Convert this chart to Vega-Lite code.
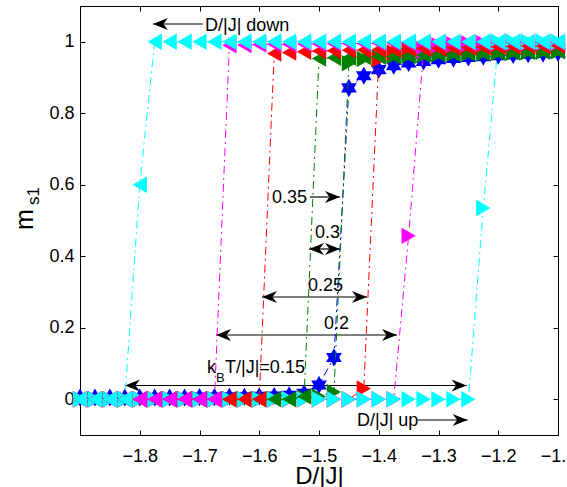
{
  "$schema": "https://vega.github.io/schema/vega-lite/v6.json",
  "width": 478,
  "height": 429,
  "autosize": {"type": "none"},
  "padding": {"left": 80, "top": 6, "right": 9, "bottom": 52},
  "background": "white",
  "config": {
    "font": "Liberation Sans",
    "view": {"stroke": "black", "strokeWidth": 1},
    "axis": {
      "domainColor": "black", "domainWidth": 1,
      "tickColor": "black", "tickWidth": 1, "tickSize": -5,
      "labelColor": "black", "labelFont": "Liberation Sans", "labelFontSize": 18,
      "titleColor": "black", "titleFont": "Liberation Sans",
      "grid": false
    }
  },
  "datasets": {
    "curves": [
      {"T":"0.35","s":"both","D":-1.9,"m":0.005},{"T":"0.35","s":"both","D":-1.875,"m":0.005},{"T":"0.35","s":"both","D":-1.85,"m":0.005},{"T":"0.35","s":"both","D":-1.825,"m":0.005},{"T":"0.35","s":"both","D":-1.8,"m":0.005},{"T":"0.35","s":"both","D":-1.775,"m":0.005},{"T":"0.35","s":"both","D":-1.75,"m":0.005},{"T":"0.35","s":"both","D":-1.725,"m":0.005},{"T":"0.35","s":"both","D":-1.7,"m":0.006},{"T":"0.35","s":"both","D":-1.675,"m":0.006},{"T":"0.35","s":"both","D":-1.65,"m":0.007},{"T":"0.35","s":"both","D":-1.625,"m":0.007},{"T":"0.35","s":"both","D":-1.6,"m":0.008},{"T":"0.35","s":"both","D":-1.575,"m":0.009},{"T":"0.35","s":"both","D":-1.55,"m":0.011},{"T":"0.35","s":"both","D":-1.525,"m":0.017},{"T":"0.35","s":"both","D":-1.5,"m":0.04},{"T":"0.35","s":"both","D":-1.475,"m":0.117},{"T":"0.35","s":"both","D":-1.45,"m":0.871},{"T":"0.35","s":"both","D":-1.425,"m":0.905},{"T":"0.35","s":"both","D":-1.4,"m":0.922},{"T":"0.35","s":"both","D":-1.375,"m":0.933},{"T":"0.35","s":"both","D":-1.35,"m":0.941},{"T":"0.35","s":"both","D":-1.325,"m":0.945},{"T":"0.35","s":"both","D":-1.3,"m":0.95},{"T":"0.35","s":"both","D":-1.275,"m":0.953},{"T":"0.35","s":"both","D":-1.25,"m":0.956},{"T":"0.35","s":"both","D":-1.225,"m":0.958},{"T":"0.35","s":"both","D":-1.2,"m":0.961},{"T":"0.35","s":"both","D":-1.175,"m":0.963},{"T":"0.35","s":"both","D":-1.15,"m":0.965},{"T":"0.35","s":"both","D":-1.125,"m":0.967},{"T":"0.35","s":"both","D":-1.1,"m":0.969},

      {"T":"0.3","s":"up","D":-1.9,"m":0},{"T":"0.3","s":"up","D":-1.875,"m":0},{"T":"0.3","s":"up","D":-1.85,"m":0},{"T":"0.3","s":"up","D":-1.825,"m":0},{"T":"0.3","s":"up","D":-1.8,"m":0},{"T":"0.3","s":"up","D":-1.775,"m":0},{"T":"0.3","s":"up","D":-1.75,"m":0},{"T":"0.3","s":"up","D":-1.725,"m":0},{"T":"0.3","s":"up","D":-1.7,"m":0},{"T":"0.3","s":"up","D":-1.675,"m":0},{"T":"0.3","s":"up","D":-1.65,"m":0},{"T":"0.3","s":"up","D":-1.625,"m":0},{"T":"0.3","s":"up","D":-1.6,"m":0},{"T":"0.3","s":"up","D":-1.575,"m":0},{"T":"0.3","s":"up","D":-1.55,"m":0},{"T":"0.3","s":"up","D":-1.525,"m":0.005},{"T":"0.3","s":"up","D":-1.5,"m":0.008},{"T":"0.3","s":"up","D":-1.475,"m":0.02},{"T":"0.3","s":"up","D":-1.45,"m":0.94},{"T":"0.3","s":"up","D":-1.425,"m":0.952},{"T":"0.3","s":"up","D":-1.4,"m":0.956},{"T":"0.3","s":"up","D":-1.375,"m":0.959},{"T":"0.3","s":"up","D":-1.35,"m":0.961},{"T":"0.3","s":"up","D":-1.325,"m":0.963},{"T":"0.3","s":"up","D":-1.3,"m":0.965},{"T":"0.3","s":"up","D":-1.275,"m":0.966},{"T":"0.3","s":"up","D":-1.25,"m":0.967},{"T":"0.3","s":"up","D":-1.225,"m":0.968},{"T":"0.3","s":"up","D":-1.2,"m":0.969},{"T":"0.3","s":"up","D":-1.175,"m":0.97},{"T":"0.3","s":"up","D":-1.15,"m":0.971},{"T":"0.3","s":"up","D":-1.125,"m":0.972},{"T":"0.3","s":"up","D":-1.1,"m":0.973},

      {"T":"0.25","s":"up","D":-1.9,"m":0},{"T":"0.25","s":"up","D":-1.875,"m":0},{"T":"0.25","s":"up","D":-1.85,"m":0},{"T":"0.25","s":"up","D":-1.825,"m":0},{"T":"0.25","s":"up","D":-1.8,"m":0},{"T":"0.25","s":"up","D":-1.775,"m":0},{"T":"0.25","s":"up","D":-1.75,"m":0},{"T":"0.25","s":"up","D":-1.725,"m":0},{"T":"0.25","s":"up","D":-1.7,"m":0},{"T":"0.25","s":"up","D":-1.675,"m":0},{"T":"0.25","s":"up","D":-1.65,"m":0},{"T":"0.25","s":"up","D":-1.625,"m":0},{"T":"0.25","s":"up","D":-1.6,"m":0},{"T":"0.25","s":"up","D":-1.575,"m":0},{"T":"0.25","s":"up","D":-1.55,"m":0},{"T":"0.25","s":"up","D":-1.525,"m":0},{"T":"0.25","s":"up","D":-1.5,"m":0},{"T":"0.25","s":"up","D":-1.475,"m":0},{"T":"0.25","s":"up","D":-1.45,"m":0},{"T":"0.25","s":"up","D":-1.425,"m":0.03},{"T":"0.25","s":"up","D":-1.4,"m":0.95},{"T":"0.25","s":"up","D":-1.375,"m":0.97},{"T":"0.25","s":"up","D":-1.35,"m":0.977},{"T":"0.25","s":"up","D":-1.325,"m":0.98},{"T":"0.25","s":"up","D":-1.3,"m":0.982},{"T":"0.25","s":"up","D":-1.275,"m":0.983},{"T":"0.25","s":"up","D":-1.25,"m":0.984},{"T":"0.25","s":"up","D":-1.225,"m":0.985},{"T":"0.25","s":"up","D":-1.2,"m":0.986},{"T":"0.25","s":"up","D":-1.175,"m":0.987},{"T":"0.25","s":"up","D":-1.15,"m":0.988},{"T":"0.25","s":"up","D":-1.125,"m":0.988},{"T":"0.25","s":"up","D":-1.1,"m":0.989},

      {"T":"0.2","s":"up","D":-1.9,"m":0},{"T":"0.2","s":"up","D":-1.875,"m":0},{"T":"0.2","s":"up","D":-1.85,"m":0},{"T":"0.2","s":"up","D":-1.825,"m":0},{"T":"0.2","s":"up","D":-1.8,"m":0},{"T":"0.2","s":"up","D":-1.775,"m":0},{"T":"0.2","s":"up","D":-1.75,"m":0},{"T":"0.2","s":"up","D":-1.725,"m":0},{"T":"0.2","s":"up","D":-1.7,"m":0},{"T":"0.2","s":"up","D":-1.675,"m":0},{"T":"0.2","s":"up","D":-1.65,"m":0},{"T":"0.2","s":"up","D":-1.625,"m":0},{"T":"0.2","s":"up","D":-1.6,"m":0},{"T":"0.2","s":"up","D":-1.575,"m":0},{"T":"0.2","s":"up","D":-1.55,"m":0},{"T":"0.2","s":"up","D":-1.525,"m":0},{"T":"0.2","s":"up","D":-1.5,"m":0},{"T":"0.2","s":"up","D":-1.475,"m":0},{"T":"0.2","s":"up","D":-1.45,"m":0},{"T":"0.2","s":"up","D":-1.425,"m":0},{"T":"0.2","s":"up","D":-1.4,"m":0},{"T":"0.2","s":"up","D":-1.375,"m":0},{"T":"0.2","s":"up","D":-1.35,"m":0.457},{"T":"0.2","s":"up","D":-1.325,"m":0.975},{"T":"0.2","s":"up","D":-1.3,"m":0.99},{"T":"0.2","s":"up","D":-1.275,"m":0.993},{"T":"0.2","s":"up","D":-1.25,"m":0.995},{"T":"0.2","s":"up","D":-1.225,"m":0.996},{"T":"0.2","s":"up","D":-1.2,"m":0.997},{"T":"0.2","s":"up","D":-1.175,"m":0.997},{"T":"0.2","s":"up","D":-1.15,"m":0.998},{"T":"0.2","s":"up","D":-1.125,"m":0.998},{"T":"0.2","s":"up","D":-1.1,"m":0.998},

      {"T":"0.15","s":"up","D":-1.9,"m":0},{"T":"0.15","s":"up","D":-1.875,"m":0},{"T":"0.15","s":"up","D":-1.85,"m":0},{"T":"0.15","s":"up","D":-1.825,"m":0},{"T":"0.15","s":"up","D":-1.8,"m":0},{"T":"0.15","s":"up","D":-1.775,"m":0},{"T":"0.15","s":"up","D":-1.75,"m":0},{"T":"0.15","s":"up","D":-1.725,"m":0},{"T":"0.15","s":"up","D":-1.7,"m":0},{"T":"0.15","s":"up","D":-1.675,"m":0},{"T":"0.15","s":"up","D":-1.65,"m":0},{"T":"0.15","s":"up","D":-1.625,"m":0},{"T":"0.15","s":"up","D":-1.6,"m":0},{"T":"0.15","s":"up","D":-1.575,"m":0},{"T":"0.15","s":"up","D":-1.55,"m":0},{"T":"0.15","s":"up","D":-1.525,"m":0},{"T":"0.15","s":"up","D":-1.5,"m":0},{"T":"0.15","s":"up","D":-1.475,"m":0},{"T":"0.15","s":"up","D":-1.45,"m":0},{"T":"0.15","s":"up","D":-1.425,"m":0},{"T":"0.15","s":"up","D":-1.4,"m":0},{"T":"0.15","s":"up","D":-1.375,"m":0},{"T":"0.15","s":"up","D":-1.35,"m":0},{"T":"0.15","s":"up","D":-1.325,"m":0},{"T":"0.15","s":"up","D":-1.3,"m":0},{"T":"0.15","s":"up","D":-1.275,"m":0},{"T":"0.15","s":"up","D":-1.25,"m":0},{"T":"0.15","s":"up","D":-1.225,"m":0.535},{"T":"0.15","s":"up","D":-1.2,"m":1},{"T":"0.15","s":"up","D":-1.175,"m":1},{"T":"0.15","s":"up","D":-1.15,"m":1},{"T":"0.15","s":"up","D":-1.125,"m":1},{"T":"0.15","s":"up","D":-1.1,"m":1},

      {"T":"0.3","s":"down","D":-1.9,"m":0},{"T":"0.3","s":"down","D":-1.875,"m":0},{"T":"0.3","s":"down","D":-1.85,"m":0},{"T":"0.3","s":"down","D":-1.825,"m":0},{"T":"0.3","s":"down","D":-1.8,"m":0},{"T":"0.3","s":"down","D":-1.775,"m":0},{"T":"0.3","s":"down","D":-1.75,"m":0},{"T":"0.3","s":"down","D":-1.725,"m":0},{"T":"0.3","s":"down","D":-1.7,"m":0},{"T":"0.3","s":"down","D":-1.675,"m":0},{"T":"0.3","s":"down","D":-1.65,"m":0},{"T":"0.3","s":"down","D":-1.625,"m":0},{"T":"0.3","s":"down","D":-1.6,"m":0},{"T":"0.3","s":"down","D":-1.575,"m":0},{"T":"0.3","s":"down","D":-1.55,"m":0},{"T":"0.3","s":"down","D":-1.525,"m":0.008},{"T":"0.3","s":"down","D":-1.5,"m":0.953},{"T":"0.3","s":"down","D":-1.475,"m":0.955},{"T":"0.3","s":"down","D":-1.45,"m":0.956},{"T":"0.3","s":"down","D":-1.425,"m":0.957},{"T":"0.3","s":"down","D":-1.4,"m":0.958},{"T":"0.3","s":"down","D":-1.375,"m":0.959},{"T":"0.3","s":"down","D":-1.35,"m":0.961},{"T":"0.3","s":"down","D":-1.325,"m":0.963},{"T":"0.3","s":"down","D":-1.3,"m":0.965},{"T":"0.3","s":"down","D":-1.275,"m":0.966},{"T":"0.3","s":"down","D":-1.25,"m":0.967},{"T":"0.3","s":"down","D":-1.225,"m":0.968},{"T":"0.3","s":"down","D":-1.2,"m":0.969},{"T":"0.3","s":"down","D":-1.175,"m":0.97},{"T":"0.3","s":"down","D":-1.15,"m":0.971},{"T":"0.3","s":"down","D":-1.125,"m":0.972},{"T":"0.3","s":"down","D":-1.1,"m":0.973},

      {"T":"0.25","s":"down","D":-1.9,"m":0},{"T":"0.25","s":"down","D":-1.875,"m":0},{"T":"0.25","s":"down","D":-1.85,"m":0},{"T":"0.25","s":"down","D":-1.825,"m":0},{"T":"0.25","s":"down","D":-1.8,"m":0},{"T":"0.25","s":"down","D":-1.775,"m":0},{"T":"0.25","s":"down","D":-1.75,"m":0},{"T":"0.25","s":"down","D":-1.725,"m":0},{"T":"0.25","s":"down","D":-1.7,"m":0},{"T":"0.25","s":"down","D":-1.675,"m":0},{"T":"0.25","s":"down","D":-1.65,"m":0},{"T":"0.25","s":"down","D":-1.625,"m":0},{"T":"0.25","s":"down","D":-1.6,"m":0},{"T":"0.25","s":"down","D":-1.575,"m":0.967},{"T":"0.25","s":"down","D":-1.55,"m":0.97},{"T":"0.25","s":"down","D":-1.525,"m":0.972},{"T":"0.25","s":"down","D":-1.5,"m":0.974},{"T":"0.25","s":"down","D":-1.475,"m":0.975},{"T":"0.25","s":"down","D":-1.45,"m":0.976},{"T":"0.25","s":"down","D":-1.425,"m":0.977},{"T":"0.25","s":"down","D":-1.4,"m":0.978},{"T":"0.25","s":"down","D":-1.375,"m":0.979},{"T":"0.25","s":"down","D":-1.35,"m":0.98},{"T":"0.25","s":"down","D":-1.325,"m":0.981},{"T":"0.25","s":"down","D":-1.3,"m":0.982},{"T":"0.25","s":"down","D":-1.275,"m":0.983},{"T":"0.25","s":"down","D":-1.25,"m":0.984},{"T":"0.25","s":"down","D":-1.225,"m":0.985},{"T":"0.25","s":"down","D":-1.2,"m":0.986},{"T":"0.25","s":"down","D":-1.175,"m":0.987},{"T":"0.25","s":"down","D":-1.15,"m":0.988},{"T":"0.25","s":"down","D":-1.125,"m":0.988},{"T":"0.25","s":"down","D":-1.1,"m":0.989},

      {"T":"0.2","s":"down","D":-1.9,"m":0},{"T":"0.2","s":"down","D":-1.875,"m":0},{"T":"0.2","s":"down","D":-1.85,"m":0},{"T":"0.2","s":"down","D":-1.825,"m":0},{"T":"0.2","s":"down","D":-1.8,"m":0},{"T":"0.2","s":"down","D":-1.775,"m":0},{"T":"0.2","s":"down","D":-1.75,"m":0},{"T":"0.2","s":"down","D":-1.725,"m":0},{"T":"0.2","s":"down","D":-1.7,"m":0},{"T":"0.2","s":"down","D":-1.675,"m":0},{"T":"0.2","s":"down","D":-1.65,"m":0.99},{"T":"0.2","s":"down","D":-1.625,"m":0.991},{"T":"0.2","s":"down","D":-1.6,"m":0.992},{"T":"0.2","s":"down","D":-1.575,"m":0.993},{"T":"0.2","s":"down","D":-1.55,"m":0.993},{"T":"0.2","s":"down","D":-1.525,"m":0.994},{"T":"0.2","s":"down","D":-1.5,"m":0.994},{"T":"0.2","s":"down","D":-1.475,"m":0.995},{"T":"0.2","s":"down","D":-1.45,"m":0.995},{"T":"0.2","s":"down","D":-1.425,"m":0.995},{"T":"0.2","s":"down","D":-1.4,"m":0.996},{"T":"0.2","s":"down","D":-1.375,"m":0.996},{"T":"0.2","s":"down","D":-1.35,"m":0.996},{"T":"0.2","s":"down","D":-1.325,"m":0.997},{"T":"0.2","s":"down","D":-1.3,"m":0.997},{"T":"0.2","s":"down","D":-1.275,"m":0.997},{"T":"0.2","s":"down","D":-1.25,"m":0.997},{"T":"0.2","s":"down","D":-1.225,"m":0.998},{"T":"0.2","s":"down","D":-1.2,"m":0.998},{"T":"0.2","s":"down","D":-1.175,"m":0.998},{"T":"0.2","s":"down","D":-1.15,"m":0.998},{"T":"0.2","s":"down","D":-1.125,"m":0.998},{"T":"0.2","s":"down","D":-1.1,"m":0.998},

      {"T":"0.15","s":"down","D":-1.9,"m":0},{"T":"0.15","s":"down","D":-1.875,"m":0},{"T":"0.15","s":"down","D":-1.85,"m":0},{"T":"0.15","s":"down","D":-1.825,"m":0},{"T":"0.15","s":"down","D":-1.8,"m":0.6},{"T":"0.15","s":"down","D":-1.775,"m":1},{"T":"0.15","s":"down","D":-1.75,"m":1},{"T":"0.15","s":"down","D":-1.725,"m":1},{"T":"0.15","s":"down","D":-1.7,"m":1},{"T":"0.15","s":"down","D":-1.675,"m":1},{"T":"0.15","s":"down","D":-1.65,"m":1},{"T":"0.15","s":"down","D":-1.625,"m":1},{"T":"0.15","s":"down","D":-1.6,"m":1},{"T":"0.15","s":"down","D":-1.575,"m":1},{"T":"0.15","s":"down","D":-1.55,"m":1},{"T":"0.15","s":"down","D":-1.525,"m":1},{"T":"0.15","s":"down","D":-1.5,"m":1},{"T":"0.15","s":"down","D":-1.475,"m":1},{"T":"0.15","s":"down","D":-1.45,"m":1},{"T":"0.15","s":"down","D":-1.425,"m":1},{"T":"0.15","s":"down","D":-1.4,"m":1},{"T":"0.15","s":"down","D":-1.375,"m":1},{"T":"0.15","s":"down","D":-1.35,"m":1},{"T":"0.15","s":"down","D":-1.325,"m":1},{"T":"0.15","s":"down","D":-1.3,"m":1},{"T":"0.15","s":"down","D":-1.275,"m":1},{"T":"0.15","s":"down","D":-1.25,"m":1},{"T":"0.15","s":"down","D":-1.225,"m":1},{"T":"0.15","s":"down","D":-1.2,"m":1},{"T":"0.15","s":"down","D":-1.175,"m":1},{"T":"0.15","s":"down","D":-1.15,"m":1},{"T":"0.15","s":"down","D":-1.125,"m":1},{"T":"0.15","s":"down","D":-1.1,"m":1}
    ],
    "arrows": [
      {"D":-1.6945,"D2":-1.778,"m":1.0497},
      {"D":-1.3343,"D2":-1.2513,"m":-0.058},
      {"D":-1.8247,"D2":-1.2529,"m":0.0385},
      {"D":-1.6724,"D2":-1.3695,"m":0.1797},
      {"D":-1.5954,"D2":-1.4197,"m":0.286},
      {"D":-1.5167,"D2":-1.4649,"m":0.4203},
      {"D":-1.5151,"D2":-1.4649,"m":0.5657}
    ],
    "heads": [
      {"D":-1.778,"m":1.0497,"dir":"left"},
      {"D":-1.2513,"m":-0.058,"dir":"right"},
      {"D":-1.8247,"m":0.0385,"dir":"left"},
      {"D":-1.2529,"m":0.0385,"dir":"right"},
      {"D":-1.6724,"m":0.1797,"dir":"left"},
      {"D":-1.3695,"m":0.1797,"dir":"right"},
      {"D":-1.5954,"m":0.286,"dir":"left"},
      {"D":-1.4197,"m":0.286,"dir":"right"},
      {"D":-1.5167,"m":0.4203,"dir":"left"},
      {"D":-1.4649,"m":0.4203,"dir":"right"},
      {"D":-1.4649,"m":0.5657,"dir":"right"}
    ]
  },
  "encoding": {
    "x": {"field": "D", "type": "quantitative", "scale": {"domain": [-1.9, -1.1], "nice": false, "zero": false}, "axis": null},
    "y": {"field": "m", "type": "quantitative", "scale": {"domain": [-0.1, 1.1], "nice": false, "zero": false}, "axis": null}
  },
  "resolve": {"axis": {"x": "independent", "y": "independent"}},
  "layer": [
    {
      "data": {"name": "arrows"},
      "mark": {"type": "rule", "color": "black", "strokeWidth": 1.2},
      "encoding": {
        "x": {"field": "D", "type": "quantitative", "scale": {"domain": [-1.9, -1.1], "nice": false, "zero": false},
              "axis": {"orient": "bottom", "values": [-1.8, -1.7, -1.6, -1.5, -1.4, -1.3, -1.2, -1.1], "format": ".1f", "labelPadding": 17, "labelOverlap": false, "labelFlush": false, "title": "D/|J|", "titleFontSize": 24, "titleFontWeight": "normal", "titlePadding": -1}},
        "x2": {"field": "D2"},
        "y": {"field": "m", "type": "quantitative", "scale": {"domain": [-0.1, 1.1], "nice": false, "zero": false},
              "axis": {"orient": "left", "values": [0, 0.2, 0.4, 0.6, 0.8, 1], "format": "~g", "labelPadding": 11, "title": null}}
      }
    },
    {
      "data": {"name": "heads"},
      "mark": {"type": "point", "filled": true, "opacity": 1, "color": "black", "size": 900, "strokeWidth": 0},
      "encoding": {
        "x": {"field": "D", "type": "quantitative", "scale": {"domain": [-1.9, -1.1], "nice": false, "zero": false},
              "axis": {"orient": "top", "values": [-1.8, -1.7, -1.6, -1.5, -1.4, -1.3, -1.2, -1.1], "labels": false, "title": null}},
        "y": {"field": "m", "type": "quantitative", "scale": {"domain": [-0.1, 1.1], "nice": false, "zero": false},
              "axis": {"orient": "right", "values": [0, 0.2, 0.4, 0.6, 0.8, 1], "labels": false, "title": null}},
        "shape": {"field": "dir", "type": "nominal", "legend": null,
                  "scale": {"domain": ["left", "right"], "range": ["M0,0L1,-0.4L0.7,0L1,0.4Z", "M0,0L-1,-0.4L-0.7,0L-1,0.4Z"]}}
      }
    },
    {
      "data": {"name": "curves"},
      "transform": [{"filter": "datum.T === '0.35'"}],
      "mark": {"type": "line", "color": "#0000ff", "strokeWidth": 1, "strokeDash": [8, 4, 2, 4]},
      "encoding": {}
    },
    {
      "data": {"name": "curves"},
      "transform": [{"filter": "datum.T === '0.35'"}],
      "mark": {"type": "point", "filled": true, "opacity": 1, "color": "#0000ff", "size": 330, "strokeWidth": 0,
               "shape": "M0,-1L0.289,-0.5L0.866,-0.5L0.577,0L0.866,0.5L0.289,0.5L0,1L-0.289,0.5L-0.866,0.5L-0.577,0L-0.866,-0.5L-0.289,-0.5Z"}
    },
    {
      "data": {"name": "curves"},
      "transform": [{"filter": "datum.s === 'up'"}],
      "mark": {"type": "line", "strokeWidth": 1, "strokeDash": [8, 4, 2, 4]},
      "encoding": {
        "color": {"field": "T", "type": "nominal", "legend": null,
                  "scale": {"domain": ["0.35", "0.3", "0.25", "0.2", "0.15"], "range": ["#0000ff", "#008000", "#ff0000", "#ff00ff", "#00ffff"]}}
      }
    },
    {
      "data": {"name": "curves"},
      "transform": [{"filter": "datum.s === 'up'"}],
      "mark": {"type": "point", "filled": true, "opacity": 1, "size": 270, "strokeWidth": 0, "shape": "triangle-right"},
      "encoding": {
        "color": {"field": "T", "type": "nominal", "legend": null,
                  "scale": {"domain": ["0.35", "0.3", "0.25", "0.2", "0.15"], "range": ["#0000ff", "#008000", "#ff0000", "#ff00ff", "#00ffff"]}}
      }
    },
    {
      "data": {"name": "curves"},
      "transform": [{"filter": "datum.s === 'down'"}],
      "mark": {"type": "line", "strokeWidth": 1, "strokeDash": [8, 4, 2, 4]},
      "encoding": {
        "color": {"field": "T", "type": "nominal", "legend": null,
                  "scale": {"domain": ["0.35", "0.3", "0.25", "0.2", "0.15"], "range": ["#0000ff", "#008000", "#ff0000", "#ff00ff", "#00ffff"]}}
      }
    },
    {
      "data": {"name": "curves"},
      "transform": [{"filter": "datum.s === 'down'"}],
      "mark": {"type": "point", "filled": true, "opacity": 1, "size": 270, "strokeWidth": 0, "shape": "triangle-left"},
      "encoding": {
        "color": {"field": "T", "type": "nominal", "legend": null,
                  "scale": {"domain": ["0.35", "0.3", "0.25", "0.2", "0.15"], "range": ["#0000ff", "#008000", "#ff0000", "#ff00ff", "#00ffff"]}}
      }
    },
    {
      "data": {"values": [
        {"label": "0.35", "D": -1.5787, "m": 0.563},
        {"label": "0.3", "D": -1.5067, "m": 0.465},
        {"label": "0.25", "D": -1.5184, "m": 0.3168},
        {"label": "0.2", "D": -1.4916, "m": 0.2105},
        {"label": "k", "D": -1.6874, "m": 0.0874},
        {"label": "T/|J|=0.15", "D": -1.6573, "m": 0.0874},
        {"label": "D/|J| down", "D": -1.6908, "m": 1.0441},
        {"label": "D/|J| up", "D": -1.4364, "m": -0.0608}
      ]},
      "mark": {"type": "text", "align": "left", "baseline": "middle", "fontSize": 18, "font": "Liberation Sans", "color": "black"},
      "encoding": {"text": {"field": "label"}}
    },
    {
      "data": {"values": [{"label": "B", "D": -1.6724, "m": 0.0594}]},
      "mark": {"type": "text", "align": "left", "baseline": "middle", "fontSize": 13, "font": "Liberation Sans", "color": "black"},
      "encoding": {"text": {"field": "label"}}
    },
    {
      "data": {"values": [{"label": "m", "D": -1.9787, "m": 0.5028}]},
      "mark": {"type": "text", "align": "center", "baseline": "alphabetic", "angle": 270, "fontSize": 25, "font": "Liberation Sans", "color": "black"},
      "encoding": {"text": {"field": "label"}}
    },
    {
      "data": {"values": [{"label": "s1", "D": -1.9686, "m": 0.5685}]},
      "mark": {"type": "text", "align": "center", "baseline": "alphabetic", "angle": 270, "fontSize": 17, "font": "Liberation Sans", "color": "black"},
      "encoding": {"text": {"field": "label"}}
    }
  ]
}
